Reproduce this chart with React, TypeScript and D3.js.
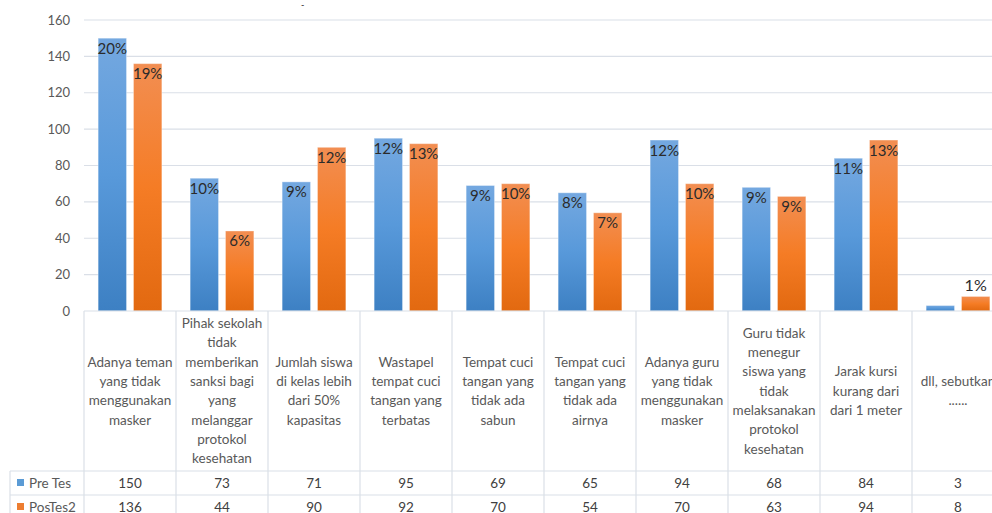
import React, { useEffect, useRef } from 'react';
import * as d3 from 'd3';

const categories = [
  'Adanya teman\nyang tidak\nmenggunakan\nmasker',
  'Pihak sekolah\ntidak\nmemberikan\nsanksi bagi\nyang\nmelanggar\nprotokol\nkesehatan',
  'Jumlah siswa\ndi kelas lebih\ndari 50%\nkapasitas',
  'Wastapel\ntempat cuci\ntangan yang\nterbatas',
  'Tempat cuci\ntangan yang\ntidak ada\nsabun',
  'Tempat cuci\ntangan yang\ntidak ada\nairnya',
  'Adanya guru\nyang tidak\nmenggunakan\nmasker',
  'Guru tidak\nmenegur\nsiswa yang\ntidak\nmelaksanakan\nprotokol\nkesehatan',
  'Jarak kursi\nkurang dari\ndari 1 meter',
  'dll, sebutkan\n......',
];
const seriesNames = ['Pre Tes', 'PosTes2'];
const preTes = [150, 73, 71, 95, 69, 65, 94, 68, 84, 3];
const posTes2 = [136, 44, 90, 92, 70, 54, 70, 63, 94, 8];
const prePct = ['20%', '10%', '9%', '12%', '9%', '8%', '12%', '9%', '11%', null];
const posPct = ['19%', '6%', '12%', '13%', '10%', '7%', '10%', '9%', '13%', '1%'];
const yTicks = [0, 20, 40, 60, 80, 100, 120, 140, 160];

const W = 992;
const H = 513;
const FONT = 'Lato, Carlito, "Open Sans", sans-serif';

const App: React.FC = () => {
  const svgRef = useRef<SVGSVGElement>(null);

  useEffect(() => {
    if (!svgRef.current) return;
    const svg = d3.select(svgRef.current);
    svg.selectAll('*').remove();

    const left = 84;
    const catW = 92;
    const top = 20;
    const base = 311;
    const labelBottom = 471;
    const rowH = 24;
    const tableLeft = 10;
    const gridColor = '#dadfe7';

    const x = d3.scaleBand<number>()
      .domain(categories.map((_, i) => i))
      .range([left, left + catW * categories.length])
      .padding(0);
    const x1 = d3.scaleBand<number>()
      .domain([0, 1])
      .range([0, x.bandwidth()])
      .paddingInner(0.197)
      .paddingOuter(0.4);
    const y = d3.scaleLinear().domain([0, 160]).range([base, top]);

    const defs = svg.append('defs');
    const grads = [
      { id: 'g-blue', stops: ['#74a8e0', '#5899da', '#3d80c3'] },
      { id: 'g-orange', stops: ['#f28e52', '#f57c25', '#e26910'] },
    ];
    grads.forEach(g => {
      const lg = defs.append('linearGradient').attr('id', g.id)
        .attr('x1', 0).attr('y1', 0).attr('x2', 0).attr('y2', 1);
      g.stops.forEach((c, i) => lg.append('stop').attr('offset', `${i * 50}%`).attr('stop-color', c));
    });

    // gridlines
    svg.append('g').selectAll('line')
      .data(yTicks.filter(t => t > 0))
      .enter().append('line')
      .attr('x1', left).attr('x2', W)
      .attr('y1', d => y(d)).attr('y2', d => y(d))
      .attr('stroke', gridColor).attr('stroke-width', 1.2);

    // y tick labels
    svg.append('g').selectAll('text')
      .data(yTicks)
      .enter().append('text')
      .attr('x', 70).attr('y', d => y(d))
      .attr('dy', '0.35em')
      .attr('text-anchor', 'end')
      .attr('font-family', FONT).attr('font-size', 13)
      .attr('fill', '#595959')
      .text(d => d);

    // bars
    const series = [
      { values: preTes, pct: prePct, fill: 'url(#g-blue)' },
      { values: posTes2, pct: posPct, fill: 'url(#g-orange)' },
    ];
    series.forEach((s, si) => {
      const g = svg.append('g');
      g.selectAll('rect')
        .data(s.values)
        .enter().append('rect')
        .attr('x', (_, i) => (x(i) as number) + (x1(si) as number))
        .attr('y', d => y(d))
        .attr('width', x1.bandwidth())
        .attr('height', d => base - y(d))
        .attr('fill', s.fill)
        .attr('stroke', '#ffffff').attr('stroke-opacity', 0.35).attr('stroke-width', 1);

      g.selectAll('text')
        .data(s.values.map((v, i) => ({ v, i, p: s.pct[i] })).filter(d => d.p))
        .enter().append('text')
        .attr('x', d => (x(d.i) as number) + (x1(si) as number) + x1.bandwidth() / 2)
        .attr('y', d => (base - y(d.v) < 22 ? y(d.v) - 5 : y(d.v) + 15.5))
        .attr('text-anchor', 'middle')
        .attr('font-family', FONT)
        .attr('font-size', d => (base - y(d.v) < 22 ? 16 : 15))
        .attr('fill', '#2b2b2b')
        .text(d => d.p as string);
    });

    // table lines
    const tg = svg.append('g').attr('stroke', gridColor).attr('stroke-width', 1.2);
    tg.append('line').attr('x1', left).attr('x2', W).attr('y1', base).attr('y2', base);
    [0, 1, 2].forEach(r => {
      tg.append('line')
        .attr('x1', tableLeft).attr('x2', W)
        .attr('y1', labelBottom + r * rowH).attr('y2', labelBottom + r * rowH);
    });
    tg.append('line').attr('x1', tableLeft).attr('x2', tableLeft)
      .attr('y1', labelBottom).attr('y2', H);
    d3.range(categories.length + 1).forEach(i => {
      const xx = left + i * catW;
      tg.append('line').attr('x1', xx).attr('x2', xx).attr('y1', base).attr('y2', H);
    });

    // category labels
    const lineH = 19.3;
    const mid = (base + labelBottom) / 2;
    categories.forEach((c, i) => {
      const lines = c.split('\n');
      const t = svg.append('text')
        .attr('text-anchor', 'middle')
        .attr('font-family', FONT).attr('font-size', 13.5)
        .attr('fill', '#595959');
      lines.forEach((ln, li) => {
        t.append('tspan')
          .attr('x', (x(i) as number) + catW / 2)
          .attr('y', mid + (li - (lines.length - 1) / 2) * lineH)
          .attr('dy', '0.35em')
          .text(ln);
      });
    });

    // legend column + values
    const colors = ['#5b9bd5', '#ed7d31'];
    const rows = [preTes, posTes2];
    rows.forEach((vals, r) => {
      const cy = labelBottom + r * rowH + rowH / 2;
      svg.append('rect')
        .attr('x', 17).attr('y', cy - 4).attr('width', 7).attr('height', 7)
        .attr('fill', colors[r]);
      svg.append('text')
        .attr('x', 29).attr('y', cy).attr('dy', '0.35em')
        .attr('font-family', FONT).attr('font-size', 13.5)
        .attr('fill', '#595959')
        .text(seriesNames[r]);
      svg.append('g').selectAll('text')
        .data(vals)
        .enter().append('text')
        .attr('x', (_, i) => (x(i) as number) + catW / 2)
        .attr('y', cy).attr('dy', '0.35em')
        .attr('text-anchor', 'middle')
        .attr('font-family', FONT).attr('font-size', 13.5)
        .attr('fill', '#404040')
        .text(d => d);
    });

    // stray mark at top
    svg.append('text')
      .attr('x', 301).attr('y', 8)
      .attr('font-family', FONT).attr('font-size', 9)
      .attr('fill', '#222')
      .text('-');
  }, []);

  return (
    <div style={{ position: 'fixed', left: 0, top: 0, width: W, height: H, background: '#fff', overflow: 'hidden' }}>
      <svg ref={svgRef} width={W} height={H} style={{ display: 'block' }} />
    </div>
  );
};

export default App;
